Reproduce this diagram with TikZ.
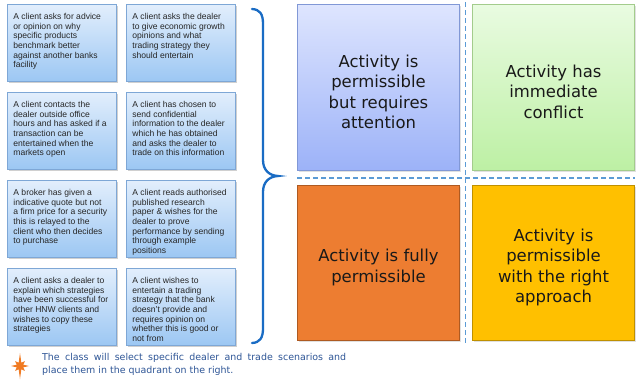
\documentclass[tikz,border=0pt]{standalone}
\usepackage{fontspec}
\setmainfont{Liberation Sans}
\newfontfamily\quadfont{DejaVu Sans}
\usetikzlibrary{shadows}
\definecolor{boxtop}{HTML}{E2EEFC}
\definecolor{boxbot}{HTML}{9CC7F3}
\definecolor{boxedge}{HTML}{7EA7D6}
\definecolor{q1top}{HTML}{DEE5FE}
\definecolor{q1bot}{HTML}{9CB2F8}
\definecolor{q1edge}{HTML}{8198D6}
\definecolor{q2top}{HTML}{E9FBE1}
\definecolor{q2bot}{HTML}{BDF0A4}
\definecolor{q2edge}{HTML}{A3CC8C}
\definecolor{q3fill}{HTML}{ED7D31}
\definecolor{q3edge}{HTML}{AE5A21}
\definecolor{q4fill}{HTML}{FFC000}
\definecolor{q4edge}{HTML}{BF9000}
\definecolor{dashcol}{HTML}{5B9BD5}
\definecolor{bracecol}{HTML}{1A6CC4}
\definecolor{notecol}{HTML}{2E5596}
\definecolor{starcol}{HTML}{F07A22}
\begin{document}
\begin{tikzpicture}[x=1bp,y=-1bp,
  scen/.style={draw=boxedge, line width=0.8bp, top color=boxtop, bottom color=boxbot,
    anchor=north west, inner xsep=6bp, inner ysep=5bp,
    drop shadow={shadow xshift=1.2bp, shadow yshift=-1.5bp, opacity=0.3, fill=black!60},
    font=\fontsize{8.6}{9.7}\selectfont, text=black!85},
  quad/.style={anchor=north west, minimum width=162bp, inner sep=0pt, align=center,
    line width=1bp, font=\quadfont\fontsize{16.5}{20.5}\selectfont, text=black!90,
    drop shadow={shadow xshift=1bp, shadow yshift=-1.2bp, opacity=0.2, fill=black!60}},
  divider/.style={draw=dashcol, line width=1.3bp, dash pattern=on 5bp off 3bp},
  bracestyle/.style={draw=bracecol, line width=2.3bp, line cap=round}
]
\useasboundingbox[fill=white] (0,0) rectangle (640,381);

\newcommand{\scentext}[1]{\parbox[c][67bp][t]{97bp}{\raggedright\rule{0pt}{10bp}#1}}
\newcommand{\qfirst}{\rule{0pt}{21bp}}

% scenario boxes
\node[scen] (s1) at (7,4) {\scentext{A client asks for advice\\or opinion on why\\specific products\\benchmark better\\against another banks\\facility}};
\node[scen] (s2) at (126,4) {\scentext{A client asks the dealer\\to give economic growth\\opinions and what\\trading strategy they\\should entertain}};
\node[scen] (s3) at (7,92) {\scentext{A client contacts the\\dealer outside office\\hours and has asked if a\\transaction can be\\entertained when the\\markets open}};
\node[scen] (s4) at (126,92) {\scentext{A client has chosen to\\send confidential\\information to the dealer\\which he has obtained\\and asks the dealer to\\trade on this information}};
\node[scen] (s5) at (7,180) {\scentext{A broker has given a\\indicative quote but not\\a firm price for a security\\this is relayed to the\\client who then decides\\to purchase}};
\node[scen] (s6) at (126,180) {\scentext{A client reads authorised\\published research\\paper \& wishes for the\\dealer to prove\\performance by sending\\through example\\positions}};
\node[scen] (s7) at (7,268) {\scentext{A client asks a dealer to\\explain which strategies\\have been successful for\\other HNW clients and\\wishes to copy these\\strategies}};
\node[scen] (s8) at (126,268) {\scentext{A client wishes to\\entertain a trading\\strategy that the bank\\doesn't provide and\\requires opinion on\\whether this is good or\\not from}};

% brace
\coordinate (btop) at (252,9);
\coordinate (btip) at (278,176);
\coordinate (bbot) at (252,343);
\draw[bracestyle] (btop) .. controls (260,9.5) and (263,14) .. (263,24)
  -- (263,160) .. controls (263,170) and (269,175.5) .. (btip)
  .. controls (269,176.5) and (263,182) .. (263,192)
  -- (263,328) .. controls (263,338) and (260,342.5) .. (bbot);

% dividers
\coordinate (vtop) at (465.5,2);
\coordinate (vbot) at (465.5,346);
\coordinate (hleft) at (297,178);
\coordinate (hright) at (635,178);
\draw[divider] (vtop) -- (vbot);
\draw[divider] (hleft) -- (hright);

% quadrants
\node[quad, minimum height=166bp, draw=q1edge, top color=q1top, bottom color=q1bot] (q1) at (297,4)
  {\qfirst Activity is\\permissible\\but requires\\attention};
\node[quad, minimum height=166bp, draw=q2edge, top color=q2top, bottom color=q2bot] (q2) at (472,4)
  {\qfirst Activity has\\immediate\\conflict};
\node[quad, minimum height=155bp, draw=q3edge, fill=q3fill] (q3) at (297,185)
  {\qfirst Activity is fully\\permissible};
\node[quad, minimum height=155bp, draw=q4edge, fill=q4fill] (q4) at (472,185)
  {\qfirst Activity is\\permissible\\with the right\\approach};

% star
\begin{scope}[shift={(20,366)}]
\fill[starcol] (0:9bp) -- (22.5:3.5bp) -- (45:7bp) -- (67.5:3.5bp) -- (90:13bp) -- (112.5:3.5bp)
  -- (135:7bp) -- (157.5:3.5bp) -- (180:9bp) -- (202.5:3.5bp) -- (225:7bp) -- (247.5:3.5bp)
  -- (270:13bp) -- (292.5:3.5bp) -- (315:7bp) -- (337.5:3.5bp) -- cycle;
\end{scope}

% note
\node[anchor=north west, text width=304bp, align=justify, inner sep=0pt,
  font=\quadfont\fontsize{9.5}{13}\selectfont, text=notecol] (note) at (42,353.5)
  {The class will select specific dealer and trade scenarios and\linebreak place them in the quadrant on the right.};
\end{tikzpicture}
\end{document}
